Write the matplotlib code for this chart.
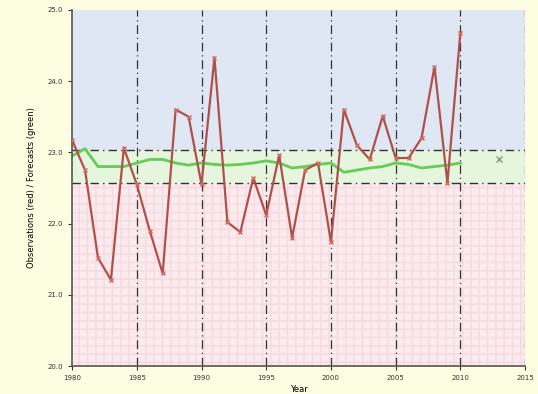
import matplotlib
matplotlib.use("Agg")
import matplotlib.pyplot as plt

# observed values (red) per year
obs_years = list(range(1980, 2011))
obs_values = [23.17, 22.75, 21.52, 21.21, 23.06, 22.55, 21.90, 21.30, 23.60, 23.50,
              22.55, 24.33, 22.02, 21.88, 22.64, 22.12, 22.96, 21.80, 22.75, 22.85,
              21.74, 23.60, 23.10, 22.90, 23.51, 22.92, 22.92, 23.20, 24.20, 22.57,
              24.68]

# forecast values (green)
fc_years = list(range(1980, 2011))
fc_values = [22.95, 23.05, 22.80, 22.80, 22.80, 22.85, 22.90, 22.90, 22.85, 22.82,
             22.85, 22.83, 22.82, 22.83, 22.85, 22.88, 22.85, 22.78, 22.80, 22.83,
             22.85, 22.72, 22.75, 22.78, 22.80, 22.85, 22.83, 22.78, 22.80, 22.82,
             22.85]

# extra forecast point
next_year = 2013
next_value = 22.90

upper = 23.03
lower = 22.57
y_ticks = [20.0, 21.0, 22.0, 23.0, 24.0, 25.0]
x_ticks = [1980, 1985, 1990, 1995, 2000, 2005, 2010, 2015]

fig = plt.figure(figsize=(5.38, 3.94), dpi=100, facecolor="#fdfde2")
ax = fig.add_axes([0.134, 0.071, 0.842, 0.904])
ax.set_xlim(1980, 2015)
ax.set_ylim(20.0, 25.0)

# background bands
ax.axhspan(upper, 25.0, facecolor="#dfe6f4", edgecolor="none", zorder=0)
ax.axhspan(lower, upper, facecolor="#e5f5de", edgecolor="none", zorder=0)
ax.axhspan(20.0, lower, facecolor="#fbeaee", edgecolor="#f5dae0", hatch="++",
           linewidth=0, zorder=0)

# grid and thresholds
for xv in x_ticks[1:]:
    ax.axvline(xv, color="#333333", linestyle=(0, (7, 3, 1, 3)), linewidth=0.9, zorder=1)
ax.axhline(upper, color="#333333", linestyle=(0, (6, 3, 1, 3)), linewidth=1.0, zorder=1)
ax.axhline(lower, color="#333333", linestyle=(0, (6, 3, 1, 3)), linewidth=1.0, zorder=1)

ax.plot(fc_years, fc_values, color="#66cc55", linewidth=2.0, zorder=2)
ax.plot(obs_years, obs_values, color="#b0504a", linewidth=1.6, marker="x",
        markersize=3, markeredgecolor="#d06a60", zorder=3)
ax.plot([next_year], [next_value], marker="x", color="#8a9a80", markersize=5, zorder=3)

ax.set_xticks(x_ticks)
ax.set_yticks(y_ticks)
ax.set_yticklabels([f"{v:.1f}" for v in y_ticks])
ax.tick_params(labelsize=5, length=3, width=0.8, colors="#333333")
for side in ("top", "right"):
    ax.spines[side].set_visible(False)
for side in ("left", "bottom"):
    ax.spines[side].set_color("#555555")
    ax.spines[side].set_linewidth(1.2)

ax.set_xlabel("Year", fontsize=6, labelpad=3)
ax.set_ylabel("Observations (red) / Forecasts (green)", fontsize=6, labelpad=8)

fig.savefig("out.png", dpi=100, facecolor=fig.get_facecolor())
